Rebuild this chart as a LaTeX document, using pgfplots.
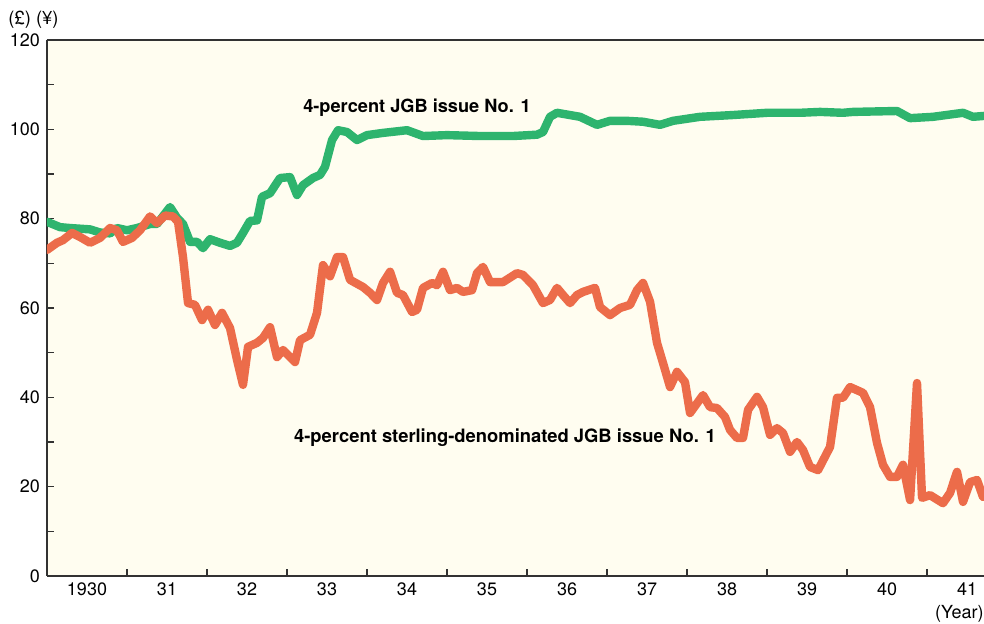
\documentclass[border=0pt]{standalone}
\usepackage{fontspec}
\setmainfont{TeX Gyre Heros}
\usepackage{pgfplots}
\usepackage{pgfplotstable}
\pgfplotsset{compat=1.18}
\definecolor{bg}{RGB}{255,253,240}
\definecolor{jgb}{RGB}{46,180,110}
\definecolor{ster}{RGB}{236,108,74}
\definecolor{axc}{RGB}{50,50,50}

\pgfplotstableread{
x y
1930.000 79.3
1930.163 78.1
1930.288 77.9
1930.538 77.6
1930.663 76.9
1930.788 76.7
1930.875 77.9
1931.000 77.4
1931.125 77.9
1931.288 78.8
1931.375 78.8
1931.538 82.6
1931.625 80.2
1931.700 78.8
1931.788 74.8
1931.875 74.8
1931.950 73.4
1932.038 75.4
1932.163 74.6
1932.288 73.9
1932.375 74.6
1932.450 76.8
1932.538 79.5
1932.625 79.6
1932.688 84.9
1932.788 85.7
1932.913 89.1
1933.038 89.3
1933.125 85.3
1933.200 87.5
1933.325 89.1
1933.413 89.8
1933.475 91.6
1933.563 97.6
1933.638 99.8
1933.750 99.4
1933.875 97.6
1934.000 98.7
1934.200 99.2
1934.500 99.8
1934.700 98.5
1935.000 98.7
1935.413 98.5
1935.825 98.5
1936.125 98.8
1936.200 99.4
1936.288 102.8
1936.375 103.7
1936.663 102.8
1936.875 101.0
1937.038 101.9
1937.250 101.9
1937.450 101.7
1937.663 101.0
1937.825 101.9
1938.163 102.8
1938.575 103.2
1939.000 103.7
1939.413 103.7
1939.663 103.9
1939.950 103.7
1940.075 103.9
1940.625 104.1
1940.788 102.5
1941.075 102.8
1941.450 103.7
1941.575 102.8
1941.713 103.0
}\jgbdata

\pgfplotstableread{
x y
1930.000 73.0
1930.125 74.6
1930.200 75.2
1930.313 76.8
1930.413 75.9
1930.538 74.6
1930.663 75.7
1930.788 77.9
1930.875 77.4
1930.950 74.8
1931.063 75.7
1931.163 77.4
1931.288 80.5
1931.375 79.0
1931.475 80.7
1931.575 80.5
1931.638 79.3
1931.700 71.4
1931.763 61.1
1931.850 60.7
1931.938 57.3
1932.013 59.6
1932.100 56.2
1932.188 58.9
1932.288 55.5
1932.375 48.4
1932.450 42.8
1932.513 51.3
1932.625 52.2
1932.700 53.3
1932.788 55.7
1932.875 49.0
1932.950 50.6
1933.100 47.9
1933.163 52.8
1933.288 54.0
1933.375 58.9
1933.450 69.6
1933.538 67.1
1933.625 71.4
1933.700 71.4
1933.788 66.3
1933.950 64.7
1934.038 63.4
1934.125 61.8
1934.200 65.6
1934.288 68.1
1934.375 63.4
1934.450 62.9
1934.563 59.1
1934.625 59.6
1934.700 64.5
1934.813 65.6
1934.875 65.1
1934.950 68.1
1935.038 64.0
1935.125 64.5
1935.200 63.6
1935.313 64.0
1935.375 67.8
1935.450 69.2
1935.538 65.8
1935.700 65.8
1935.875 67.8
1935.950 67.4
1936.075 65.1
1936.200 61.1
1936.288 61.8
1936.375 64.5
1936.450 62.9
1936.538 61.1
1936.625 62.9
1936.700 63.6
1936.850 64.5
1936.913 60.2
1937.038 58.4
1937.163 60.0
1937.288 60.7
1937.375 64.0
1937.450 65.6
1937.538 61.4
1937.625 52.2
1937.700 47.7
1937.788 42.3
1937.875 45.7
1937.975 43.4
1938.038 36.5
1938.200 40.5
1938.288 37.8
1938.375 37.6
1938.475 35.6
1938.538 32.7
1938.625 30.9
1938.700 30.9
1938.763 37.2
1938.875 40.1
1938.950 37.8
1939.038 31.6
1939.125 33.1
1939.200 32.0
1939.288 27.8
1939.375 30.0
1939.450 28.2
1939.538 24.4
1939.638 23.7
1939.788 28.9
1939.875 39.9
1939.950 39.9
1940.038 42.3
1940.200 41.0
1940.288 37.8
1940.375 29.8
1940.450 24.9
1940.538 22.2
1940.625 22.2
1940.700 24.9
1940.788 17.0
1940.875 43.2
1940.938 17.5
1941.038 18.1
1941.200 16.3
1941.288 18.6
1941.375 23.3
1941.450 16.6
1941.538 21.0
1941.625 21.5
1941.700 17.7
}\sterdata

\begin{document}
\begin{tikzpicture}
\begin{axis}[
  scale only axis, width=468.5pt, height=268pt,
  xmin=1930, xmax=1941.7125, ymin=0, ymax=120,
  axis x line*=bottom, axis y line*=left,
  axis background/.style={fill=bg},
  ytick={0,20,...,120}, minor ytick={10,30,...,110},
  xtick={1931,1932,...,1941},
  xticklabels={,,,,,,,,,,},
  extra x ticks={1930.5,1931.5,1932.5,1933.5,1934.5,1935.5,1936.5,1937.5,1938.5,1939.5,1940.5,1941.5},
  extra x tick labels={1930,31,32,33,34,35,36,37,38,39,40,41},
  extra x tick style={major tick length=0pt},
  tick align=inside, major tick length=3.5pt, minor tick length=3.5pt,
  tick style={axc, line width=0.7pt},
  axis line style={axc, line width=0.75pt},
  tick label style={font=\fontsize{9}{10}\selectfont},
  /pgf/number format/assume math mode=true,
]
\addplot[jgb, line width=4.2pt, line join=round, line cap=round] table[x=x,y=y] {\jgbdata};
\addplot[ster, line width=4.2pt, line join=round, line cap=round] table[x=x,y=y] {\sterdata};
\draw[axc, line width=0.75pt] (rel axis cs:0,1) -- (rel axis cs:1,1);
\node[font=\bfseries\fontsize{9.1}{10}\selectfont] at (axis cs:1934.625,104.8) {4-percent JGB issue No. 1};
\node[font=\bfseries\fontsize{9.2}{10}\selectfont] at (axis cs:1935.725,30.9) {4-percent sterling-denominated JGB issue No. 1};
\end{axis}
\node[font=\fontsize{9.2}{10}\selectfont] at ([xshift=-6.75pt,yshift=10pt]current axis.north west) {(£) (¥)};
\node[anchor=east, inner sep=0pt, font=\fontsize{9}{10}\selectfont] at ([yshift=-19pt]current axis.south east) {(Year)};
\pgfresetboundingbox
\path ([xshift=-23.5pt,yshift=-24pt]current axis.south west) rectangle ([yshift=20pt]current axis.north east);
\end{tikzpicture}
\end{document}
